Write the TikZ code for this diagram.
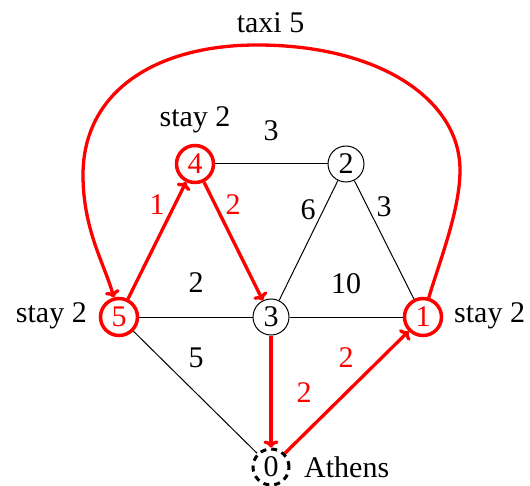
\documentclass[tikz,border=0pt]{standalone}
\usepackage{fontspec}
\setmainfont{Liberation Serif}
\usetikzlibrary{arrows.meta}
\begin{document}
\begin{tikzpicture}[x=1pt,y=-1pt,
  font=\fontsize{30}{36}\selectfont,
  vtx/.style={circle,draw,line width=1pt,minimum size=36pt,inner sep=0pt},
  hot/.style={vtx,draw=red,text=red,line width=3.5pt,minimum size=37pt},
  home/.style={vtx,line width=3pt,dash pattern=on 6pt off 5pt},
  edge/.style={draw,line width=1pt},
  redge/.style={draw=red,line width=3.3pt,-{To[length=7pt,width=15pt]}},
  lab/.style={anchor=base,inner sep=0pt},
  rlab/.style={lab,text=red}]
\useasboundingbox (0,0) rectangle (530,486);
% vertices
\node[hot]  (n4) at (195,164) {4};
\node[vtx]  (n2) at (346,164) {2};
\node[hot]  (n5) at (119,317) {5};
\node[vtx]  (n3) at (271,317) {3};
\node[hot]  (n1) at (423,317) {1};
\node[home] (n0) at (271,467) {0};
% black edges
\draw[edge] (n4) -- (n2);
\draw[edge] (n2) -- (n3);
\draw[edge] (n2) -- (n1);
\draw[edge] (n5) -- (n3);
\draw[edge] (n3) -- (n1);
\draw[edge] (n5) -- (n0);
% red path
\draw[redge] (n5) -- (n4);
\draw[redge] (n4) -- (n3);
\draw[redge] (n3) -- (n0);
\draw[redge] (n0) -- (n1);
\draw[redge] (n1) .. controls (440,260) and (460,210) .. (460,170)
  .. controls (460,100) and (380,45) .. (257,45)
  .. controls (155,45) and (83,92) .. (83,175)
  .. controls (83,230) and (105,265) .. (n5);
% edge labels
\node[lab]  (l42) at (271,141) {3};
\node[lab]  (l23) at (308,220) {6};
\node[lab]  (l21) at (384,217) {3};
\node[rlab] (l54) at (157,215) {1};
\node[rlab] (l43) at (233,215) {2};
\node[lab]  (l53) at (196,293) {2};
\node[lab]  (l31) at (346,294) {10};
\node[lab]  (l50) at (196,367) {5};
\node[rlab] (l01) at (346,367) {2};
\node[rlab] (l30) at (304,402) {2};
% other texts
\node[lab] (taxi) at (270.5,33) {taxi 5};
\node[lab] (stayT) at (195,127) {stay 2};
\node[anchor=base east,inner sep=0pt] (stayL) at (87,323) {stay 2};
\node[anchor=base west,inner sep=0pt] (stayR) at (454,323) {stay 2};
\node[anchor=base west,inner sep=0pt] (athens) at (304,477) {Athens};
\end{tikzpicture}
\end{document}
